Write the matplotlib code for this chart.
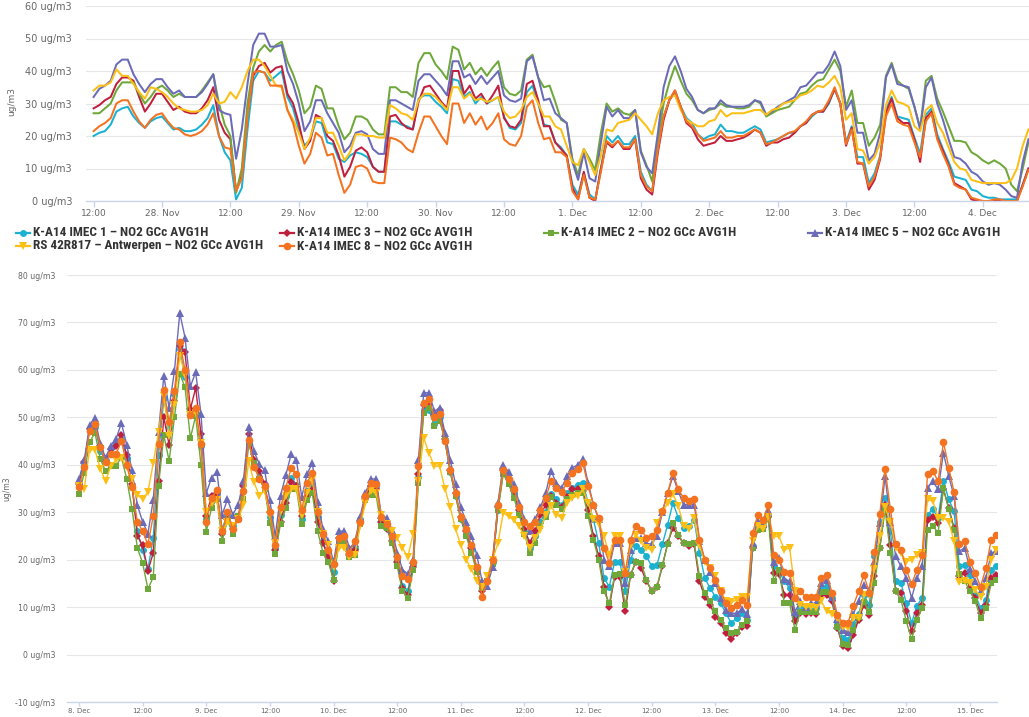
import numpy as np
import pandas as pd
import matplotlib
matplotlib.use("Agg")
import matplotlib.pyplot as plt
import matplotlib.dates as mdates
from matplotlib.lines import Line2D
from matplotlib.ticker import FuncFormatter
from matplotlib import font_manager

# ---------------- data ----------------
series_names = [
    "K-A14 IMEC 1 \u2013 NO2 GCc AVG1H",
    "K-A14 IMEC 3 \u2013 NO2 GCc AVG1H",
    "K-A14 IMEC 2 \u2013 NO2 GCc AVG1H",
    "K-A14 IMEC 5 \u2013 NO2 GCc AVG1H",
    "RS 42R817 \u2013 Antwerpen \u2013 NO2 GCc AVG1H",
    "K-A14 IMEC 8 \u2013 NO2 GCc AVG1H",
]
series_colors = ["#1bb2d2", "#c01f3e", "#6ea83b", "#6b6bb8", "#fbbf16", "#f47321"]
series_markers = ["o", "D", "s", "^", "v", "o"]
marker_sizes = [5.0, 3.8, 4.8, 5.2, 5.2, 5.5]

top_start = "2017-11-27 12:00"   # hourly values
bot_start = "2017-12-08 00:00"   # hourly values

top_imec1 = [20, 21, 21.5, 23.5, 27.5, 28.5, 29, 26, 24, 22.5, 24.5, 25.5, 26, 24, 22, 22.5, 21.5, 21.5, 22, 23.5,
             25.5, 29.5, 20, 15, 12.5, 0.5, 4, 22, 37, 40, 39.5, 37, 38.5, 40, 32, 28.5, 22, 17, 19, 24.5,
             24, 18, 17.5, 13, 12, 14, 15, 14.5, 13.5, 10.5, 9, 9, 24.5, 24.5, 23.5, 23, 22, 31.5, 32.5, 32.5,
             30.5, 29, 27, 37.5, 37, 32, 33.5, 30, 32, 30, 31, 32, 26, 22.5, 22, 24, 33.5, 35.5, 30, 23.5, 23, 18,
             16.5, 14, 5, 2, 8.5, 2, 0.5, 10, 20, 18, 20, 17.5, 17.5, 20, 9, 5, 3, 17, 26, 31,
             33.5, 29, 25.5, 24, 20.5, 19, 20, 20.5, 23.5, 21.5, 21.5, 21, 21, 22, 23, 22, 18, 18.5, 19, 20, 21,
             21, 23, 24, 26, 27.5, 27.5, 30, 34.5, 30, 18, 23, 13.5, 13.5, 5.5, 8.5, 14, 28, 32, 26, 25.5,
             25, 19.5, 14.5, 26.5, 28.5, 20.5, 16, 12, 7.5, 7, 6.5, 3.5, 3, 1.5, 1, 1, 0.5, 0.5, 0.5, 0.5, 5, 10]
top_imec3 = [28.5, 29.5, 31, 32, 36, 38, 38, 37, 32, 27.5, 30, 33, 33, 30.5, 28, 29, 27.5, 27, 27, 28.5,
             31, 35, 25, 21, 19, 3, 8, 27, 38.5, 41.5, 42.5, 39.5, 41, 41.5, 33, 30, 24, 16, 18.5, 26.5,
             25.5, 20, 18.5, 14, 7.5, 10.5, 15.5, 16.5, 15, 10.5, 9, 9, 26, 26.5, 24, 22.5, 22, 30.5, 35, 35.5,
             33, 30.5, 28.5, 40, 40, 33, 35.5, 31.5, 33, 30, 32.5, 35.5, 25.5, 23, 22.5, 25, 36, 37, 31, 23, 23, 18,
             16, 14, 4, 0.5, 9, 1, 0, 10, 18, 16.5, 18.5, 16, 16, 19, 7, 3.5, 2, 15, 25, 31,
             34, 29, 24, 22.5, 19, 17, 17.5, 18, 20, 18.5, 18.5, 19, 19.5, 20.5, 22, 21, 17, 18, 18, 19, 19.5,
             21, 23, 24, 26.5, 27.5, 27.5, 30.5, 34.5, 30, 17, 22.5, 11.5, 11.5, 3.5, 6.5, 13, 27, 31.5, 25.5, 24,
             24, 19, 12, 25.5, 27.5, 19.5, 15.5, 11, 5.5, 4.5, 3.5, 0.5, 0, 0, 0, 0, 0, 0, 0, 0, 5, 10]
top_imec2 = [27, 27, 28.5, 30, 34, 36.5, 36.5, 36.5, 33, 30, 32, 34.5, 35.5, 34, 32, 33, 32, 32, 32, 34,
             36.5, 39, 30, 23.5, 20, 2.5, 10, 30, 41, 46, 48, 46, 48, 49, 43, 39, 34, 27, 29, 35.5,
             34.5, 28.5, 28.5, 23, 19, 21, 26, 26, 25, 22, 20.5, 20.5, 35, 35, 33.5, 33.5, 32, 42.5, 45.5, 45.5,
             42, 40, 37.5, 47.5, 46.5, 40.5, 42.5, 39, 41, 38.5, 41, 43, 35, 33, 32.5, 34, 43.5, 45, 38, 35, 35.5, 30.5,
             25, 24, 13, 8, 16, 13, 9.5, 21, 30, 27.5, 28.5, 27, 26.5, 28, 15.5, 11, 6, 19, 30, 36.5,
             41.5, 37, 33, 31, 28, 27, 28, 28.5, 30, 29, 29, 28.5, 28.5, 29, 31, 30, 26, 27, 28, 28.5, 29,
             31, 33, 33.5, 35.5, 37, 37.5, 40.5, 43.5, 40, 29, 34, 24, 24, 17, 19.5, 23.5, 38.5, 42.5, 37, 35.5,
             34.5, 29, 22.5, 37, 38.5, 31.5, 27.5, 23, 18.5, 18.5, 18, 15, 14, 12.5, 11.5, 12.5, 11.5, 10, 5, 3, 10, 18]
top_imec5 = [32, 34.5, 35.5, 37, 42, 43.5, 43.5, 39, 36, 33.5, 36, 37.5, 37.5, 35, 33, 34, 32, 32, 32, 33.5,
             36, 39, 28, 27, 26.5, 13, 22, 36, 48, 51.5, 51.5, 47.5, 47.5, 48, 40, 36, 30, 21.5, 24.5, 31,
             31, 27, 24, 21, 15, 17, 21, 21.5, 20.5, 16, 14.5, 14.5, 31, 31, 30, 29, 28, 37, 39, 39,
             37, 35, 32.5, 43, 43, 38, 39, 36, 38.5, 36, 38, 40, 32.5, 31, 30.5, 31.5, 43, 44.5, 38, 31, 31.5, 27,
             25.5, 24, 12, 6.5, 15, 7, 6, 18, 29, 26, 28, 25.5, 25.5, 28, 15, 10.5, 8.5, 21, 35, 41.5,
             44.5, 40, 34.5, 32, 28, 27, 28.5, 28.5, 31, 29.5, 29, 29, 29, 29.5, 31, 30.5, 26.5, 27.5, 29, 30, 31,
             32, 35, 35.5, 37.5, 39.5, 39.5, 42, 46, 41.5, 28, 31, 21, 21, 12.5, 14.5, 21, 38, 42, 36, 35.5,
             35, 29, 22, 35, 38, 30, 25, 19, 13.5, 13, 11.5, 9, 8, 6, 5, 5.5, 5, 3.5, 1.5, 1, 12, 19]
top_rs = [34, 35.5, 35.5, 36.5, 40.5, 38.5, 38.5, 36, 33.5, 31.5, 35, 34.5, 33.5, 32, 30, 28.5, 28, 27.5, 27.5, 28,
          29.5, 33, 30, 30.5, 33.5, 31.5, 35, 40, 43.5, 43.5, 41.5, 38.5, 35.5, 35, 28, 25, 21, 16, 19.5, 25.5,
          25.5, 21, 21, 17, 12.5, 15, 20.5, 20.5, 20, 20, 19.5, 19.5, 29.5, 28.5, 27, 26.5, 25, 31, 33, 33,
          32, 30, 28, 35, 35, 31.5, 33, 31, 31.5, 30.5, 31, 32, 27.5, 25.5, 26, 28, 32, 33.5, 30, 26, 26, 23,
          22, 17, 12, 11, 16, 12, 8, 14, 22, 21.5, 24, 24.5, 25, 27, 25, 23, 20.5, 27, 31, 32,
          32.5, 28, 25, 24, 23, 23, 24.5, 25, 28, 26, 27, 27, 27, 27.5, 28, 28, 26.5, 28, 28.5, 30, 30.5,
          31, 32.5, 33, 34, 35.5, 35, 36.5, 38.5, 35, 25, 27, 16, 15.5, 11.5, 13.5, 18, 29.5, 34, 30.5, 30,
          29, 23, 21.5, 28, 29.5, 24, 21, 16.5, 12, 10, 9.5, 6.5, 6, 5.5, 5.5, 5.5, 5.5, 5.5, 6.5, 10, 17, 22]
top_imec8 = [21.5, 23, 24, 25.5, 30, 31, 31, 27.5, 24.5, 22.5, 25, 26.5, 27, 24.5, 22.5, 22, 20.5, 20, 20.5, 21.5,
             23.5, 27, 20, 16.5, 16, 3, 7, 26, 39.5, 40, 39.5, 35.5, 35.5, 35.5, 28, 24, 17, 11.5, 14.5, 21,
             19.5, 14, 14.5, 8, 2.5, 5, 10.5, 11, 10, 6, 5.5, 5.5, 19.5, 19, 18, 16, 15, 21, 26, 26,
             23, 20, 17.5, 30, 30, 24, 27, 23.5, 26, 22, 24, 27, 19, 17.5, 17, 20, 29, 31, 24, 19, 19.5, 15,
             15, 13.5, 3, 0.5, 8, 1, 0.5, 9, 18.5, 17, 18.5, 16.5, 16.5, 19, 8, 4.5, 3, 16, 26, 31,
             34, 29, 24.5, 23, 20.5, 18.5, 19, 19.5, 21.5, 19.5, 19.5, 20, 20, 21, 22, 21, 17.5, 18, 19, 20, 21,
             21.5, 23, 24.5, 26.5, 27.5, 28, 31, 35, 30, 17.5, 22, 12, 11.5, 4.5, 7.5, 13.5, 26, 30, 24.5, 23.5,
             23, 18, 13.5, 24.5, 27, 19, 14.5, 10.5, 5, 4, 3.5, 1, 0.5, 0, 0, 0.5, 0.5, 0, 0, 0, 4.5, 9.5]

bot_imec1 = [36, 40, 47.8, 48, 43, 41, 43.5, 44.5, 45.5, 41.5, 35.5, 26, 22, 18, 24.5, 42, 54, 48, 55, 64.5,
             58.5, 50.5, 51, 44, 28.5, 33.5, 34, 26.5, 29.5, 27, 28.5, 34.5, 45, 40, 37.5, 35.5, 29, 22.5, 29.5, 33.5,
             37.2, 35.8, 28.5, 34.5, 36, 29, 24, 20.5, 17.5,
             24.5, 25, 21, 22.5, 28.5, 33, 35.5, 35.5, 28.5, 27, 24.5, 20, 14.5, 13.5, 19, 37.5, 51.5, 51.5, 48.5, 50, 45,
             38.5, 33.5, 28.5, 25.5, 22, 18, 14, 15.5, 19.5, 30.5, 38.5, 36.5, 34, 30, 26, 22.5, 25, 28, 30,
             33.9, 32.7, 31.5, 34, 35.1, 35.8, 36.2,
             32, 28.5, 23.5, 16.1, 14.3, 19.6, 19.6, 13.3, 20, 22.8, 22.1, 20.7, 18.6, 18.9, 23.2, 27.4, 32, 28.8, 26.7, 27,
             28.4, 21.4, 16.1, 14, 12.2, 10.8, 8.7, 6.6, 7.7, 8.7, 7.3, 22.8, 27, 27, 29.5, 18.6, 17.5, 15.5,
             14, 8, 10, 9.5, 9.8, 9.8, 14, 14.5, 12, 6.8, 3.5, 3, 6.5, 8.5, 12.5, 10.5, 20.7, 28, 33, 26,
             15.5, 15, 10.8, 6.6, 10.3, 11.9, 29.5, 30.6, 28.8, 36.6, 32.7, 30.2, 18.6, 18.9, 16.8, 12.6, 9.8, 11.5, 17.9, 18.6]
bot_imec3 = [36, 40.5, 47.5, 48.3, 44, 40.5, 43.3, 44, 46.3, 42, 36, 25, 23, 17.7, 21.4, 36.6, 50, 44.2, 53.5, 65,
             63.7, 51.7, 56.2, 46.5, 29.2, 33.5, 34, 25.5, 28.5, 26.5, 28.7, 35.5, 46.5, 41, 38.7, 36, 30, 22, 28, 32,
             36.3, 35.5, 29.2, 33.3, 34.7, 28, 23.5, 20.5, 15.5,
             24.5, 24.5, 21, 22, 28, 33, 35.5, 35, 28, 26.5, 24, 19.5, 14, 12.5, 18.5, 38, 52.5, 52.5, 50.5, 51.5, 45.5,
             39, 34, 29, 26, 22.5, 18, 13.5, 15.5, 20, 31, 39, 37, 34.5, 30.5, 26.5, 23.5, 26, 29.5, 31.5,
             33.5, 32, 31, 33.2, 34.8, 34.8, 34.4,
             30.5, 25, 20.7, 14.3, 10.1, 16.4, 16.4, 9.1, 16.8, 19.5, 18.2, 15.4, 13.5, 14.3, 18.6, 23.5, 26.7, 24.9, 23.5, 22.8,
             23.2, 15.4, 12.2, 10.5, 8, 6.6, 4.5, 3.2, 4.5, 5.9, 6, 22.5, 26.5, 27, 29, 17.2, 17, 12.6,
             12.6, 7, 8.7, 8.6, 8.7, 8.5, 12.6, 12.6, 11.2, 5.5, 1.9, 1.3, 4.1, 7.3, 10.5, 8.4, 16.5, 22.5, 31.5, 23,
             13.5, 12.9, 9.1, 4.9, 8.7, 10.5, 28.4, 29, 27.8, 34.8, 30.9, 26.7, 16.5, 17.2, 14, 11.9, 8.7, 10.5, 16.1, 16.8]
bot_imec2 = [33.8, 38.3, 44.7, 46.8, 41.3, 38.7, 39.8, 39.8, 41.6, 37, 30.7, 22.5, 19.3, 13.8, 16.3, 35.6, 46.2, 40.8, 50, 59.2,
             56.3, 45.6, 50.3, 40, 25.9, 30.9, 32.8, 23.9, 28.4, 25.4, 29.2, 32.8, 44.5, 40.4, 37, 35, 27.8, 21.2, 27.6, 30.9,
             35, 35, 27.6, 32.5, 34, 26, 21.5, 19.5, 15.8,
             23.5, 24, 20.5, 21, 27.5, 32.5, 33.7, 33.7, 27, 26.7, 23.5, 18.6, 13.3, 12, 17.9, 36.2, 51, 52, 48.2, 49.2, 45.4,
             38.5, 33.5, 28.5, 25, 21.5, 17.5, 14, 15.5, 19, 30.5, 38, 36, 33, 29.5, 25.5, 21.5, 23.5, 27, 29,
             33.2, 31.6, 30.6, 32.7, 33.7, 34.1, 34.1,
             29.1, 24.2, 20, 13.3, 10.8, 16.8, 17, 10.5, 16.8, 19.6, 19.3, 15.8, 13.3, 14.3, 18.9, 23.2, 27.7, 25.3, 23.5, 23.2,
             23.5, 16.5, 12.9, 11.2, 9.1, 7.3, 5.6, 4.5, 4.8, 6.3, 7, 22.5, 26.3, 26.5, 28.5, 15.4, 17.9, 10.8,
             10.8, 5.2, 8.9, 9, 9, 8.9, 13.1, 13.2, 11.9, 5.9, 2.2, 2, 5.2, 8, 11, 9, 15, 22.5, 30.6, 21.4,
             13.3, 11.5, 7, 3.2, 7.3, 9.8, 26.3, 27.2, 25.6, 35.1, 30.6, 26.3, 17, 15.5, 13.3, 11.2, 7.7, 9.8, 15, 15.8]
bot_imec5 = [37, 41, 48.3, 49.8, 44.5, 41.5, 44, 45.5, 48.8, 44.2, 38.8, 31.5, 28, 25.5, 32.6, 47, 58.7, 52, 59.8, 72,
             66.8, 56.5, 59.5, 50.8, 34, 37.3, 38.5, 29.5, 32.7, 29.5, 31.5, 36.5, 48, 42.8, 40.2, 38.8, 32.5, 25, 33.5, 37.8,
             42.2, 41, 33.2, 38, 40.4, 32.2, 26.5, 24, 19.5,
             26, 26, 22.5, 23.5, 29, 34, 37, 37, 29.5, 28.8, 26.3, 21.5, 17.9, 17, 20, 41, 55.2, 55.2, 51.3, 52, 46.8,
             41, 36, 31, 28, 25, 21, 15.5, 14.5, 18.5, 32, 40, 38.5, 36, 32, 28.5, 26, 28.5, 31, 34,
             38.7, 36.2, 35.1, 37.6, 39.4, 39.9, 41.3,
             36.2, 31.6, 28.5, 20, 18.6, 23.5, 23.5, 15, 22, 24.5, 24.5, 23.5, 23.2, 25, 30, 34, 37.6, 34.4, 31.6, 31.6,
             31.6, 24, 20, 17.5, 15.1, 11.9, 9.4, 8.7, 8.7, 9.5, 8.5, 23.5, 28.1, 27.5, 30.5, 19.6, 20.3, 16,
             15.4, 9, 11.2, 10.1, 10.8, 10.8, 15, 15.8, 12.2, 7.5, 5.2, 4.8, 8.5, 11.2, 14.7, 13.6, 19.6, 27.7, 37.6, 28,
             20.7, 18.6, 16.1, 11.9, 16.1, 18.6, 35.1, 36.5, 34.8, 42.5, 37.6, 33.4, 21.8, 22.5, 18, 15.4, 13.3, 16.1, 21.4, 21.8]
bot_rs = [35.5, 35, 43.2, 43.2, 39.2, 36.5, 39.8, 41, 41.5, 39.5, 37, 33.7, 32.7, 34.3, 40.3, 47, 54.5, 46, 52.5, 63,
          59, 50.5, 51, 44.5, 30, 32, 32.5, 26, 28, 27, 28.5, 31.5, 40.8, 36.3, 33.5, 34.5, 29.5, 23.5, 30.3, 33.5,
          34.8, 35, 29.5, 34, 36.7, 30, 25.5, 23, 18.5,
          22.5, 22.5, 20.5, 21, 27, 32, 34.5, 34, 29.5, 27.5, 26, 24.5, 22.5, 20.5, 25.5, 36.6, 45.7, 42.4, 39.7, 39.7, 35,
          31, 26.5, 23, 20, 18, 15.5, 14.3, 16.5, 20, 23.5, 29.9, 29.1, 28.4, 27, 25, 22.5, 24.5, 26.3, 29.5,
          31.3, 29.5, 28.8, 32, 33, 33.4, 34.8,
          32, 28.5, 27.5, 25, 21, 24.9, 24.9, 17.5, 23, 25.3, 24, 22.5, 22, 27.7, 29.8, 32, 33.8, 31.4, 27, 26.5,
          28.7, 23, 19.5, 18.2, 16.5, 13.3, 11.2, 11, 11.5, 12.2, 12.2, 24, 27, 26.5, 29, 24.9, 24.9, 22.1,
          22.5, 13.5, 10.5, 10, 10.1, 9.8, 11.2, 9.1, 8.5, 7.7, 5.9, 5.5, 7.7, 7.7, 12.5, 12.5, 18, 25, 31, 28,
          22.5, 21.5, 19.6, 20, 21, 21.5, 32.7, 32.3, 28.8, 28.8, 28, 23.9, 15.2, 15.4, 15, 13.6, 12.2, 14.3, 20, 22.1]
bot_imec8 = [35.3, 39.5, 47.2, 48.5, 43.8, 40.5, 42.3, 42.3, 45, 40, 35.3, 28, 26, 23.2, 29.2, 44.3, 55.8, 49, 55.5, 65.8,
             60, 50.5, 52, 44.3, 28, 33, 34.6, 26, 30, 26.5, 28.5, 34.5, 45.3, 39.6, 37, 35.5, 30, 23, 31, 35.2,
             39.3, 38, 30.5, 36.2, 38.3, 30, 25.5, 22, 19,
             24.5, 25, 21.5, 24, 28, 33.5, 36.2, 36, 29, 27.5, 25, 20.5, 16.5, 16, 19.5, 39.7, 53.1, 53.8, 50, 50.6, 45,
             39, 34, 29, 26.5, 23, 18.5, 12.2, 15.5, 20, 31.5, 39, 37, 35, 31, 28, 27, 28, 30.5, 33,
             36.6, 35.1, 34.2, 36.2, 38.3, 39.2, 40.4,
             35.5, 31.6, 28.8, 22.5, 19.3, 24.2, 24.2, 17.2, 24.2, 27.2, 26.3, 24.6, 24.9, 26.3, 30.3, 34.1, 38.3, 34.8, 33, 32.3,
             32.7, 24.2, 20, 18.2, 15.8, 13.3, 10.8, 9.8, 10.5, 11.5, 10.5, 25.6, 29.5, 28.4, 31.6, 21, 20, 17.5,
             17.2, 12, 13.3, 12.2, 12.2, 12.2, 16.2, 16.8, 13, 8.4, 6.7, 6.6, 10.3, 13.3, 16.8, 13, 21.7, 29.7, 39.2, 30.6,
             23.2, 22.1, 17.9, 14.8, 17.9, 21, 38, 38.7, 36.5, 44.8, 39.4, 34.2, 23.2, 23.9, 19.6, 17.2, 14.3, 18.2, 24.2, 25.3]

top_yticks = [0, 10, 20, 30, 40, 50, 60]
bot_yticks = [-10, 0, 10, 20, 30, 40, 50, 60, 70, 80]

# ---------------- figure ----------------
W, H = 1029, 717
fig = plt.figure(figsize=(W / 100, H / 100), dpi=100)
fig.patch.set_facecolor("white")


def fx(p):
    return p / W


def fy(p):
    return 1 - p / H


ax_top = fig.add_axes([fx(86), fy(201), fx(1029) - fx(86), fy(6) - fy(201)])
ax_bot = fig.add_axes([fx(67), fy(702), fx(997) - fx(67), fy(275) - fy(702)])

HOUR = 1.0 / 24.0


def hourly(start, n):
    return mdates.date2num(pd.date_range(start, periods=n, freq="h").to_pydatetime())


top_data = [top_imec1, top_imec3, top_imec2, top_imec5, top_rs, top_imec8]
bot_data = [bot_imec1, bot_imec3, bot_imec2, bot_imec5, bot_rs, bot_imec8]

for vals, col in zip(top_data, series_colors):
    ax_top.plot(hourly(top_start, len(vals)), vals, color=col, lw=1.45,
                solid_joinstyle="round", zorder=3)

for vals, col, mk, ms in zip(bot_data, series_colors, series_markers, marker_sizes):
    ax_bot.plot(hourly(bot_start, len(vals)), vals, color=col, lw=1.0, marker=mk,
                ms=ms, mew=0, zorder=3)

t0 = mdates.date2num(pd.Timestamp(top_start).to_pydatetime())
b0 = mdates.date2num(pd.Timestamp(bot_start).to_pydatetime())
ax_top.set_xlim(t0 - 1.33 * HOUR, t0 + 164.1 * HOUR)
ax_bot.set_xlim(b0 - 2.26 * HOUR, b0 + 173.1 * HOUR)
ax_top.set_ylim(0, 60)
ax_bot.set_ylim(-10, 80)


def date_fmt(v, pos):
    d = pd.Timestamp(mdates.num2date(v).replace(tzinfo=None)).round("min")
    if d.hour == 0:
        return f"{d.day}. {d.strftime('%b')}"
    return d.strftime("%H:%M")


def style(ax, yticks, ylab_size, xlab_size, ypad, tlen, xpad):
    ax.set_facecolor("white")
    for s in ["top", "right", "left"]:
        ax.spines[s].set_visible(False)
    ax.spines["bottom"].set_color("#ccd6eb")
    ax.spines["bottom"].set_linewidth(1.0)
    ax.spines["bottom"].set_zorder(4)
    ax.set_yticks(yticks)
    ax.set_yticklabels([f"{v} ug/m3" for v in yticks])
    ax.tick_params(axis="y", length=0, pad=ypad, labelsize=ylab_size, labelcolor="#666666")
    ax.xaxis.set_major_locator(mdates.HourLocator(byhour=[0, 12]))
    ax.xaxis.set_major_formatter(FuncFormatter(date_fmt))
    ax.tick_params(axis="x", length=tlen, width=1.0, color="#ccd6eb", pad=xpad,
                   labelsize=xlab_size, labelcolor="#666666")
    ax.yaxis.grid(True, color="#e6e6e6", linewidth=0.8)
    ax.xaxis.grid(False)
    ax.set_axisbelow(True)


style(ax_top, top_yticks, 7, 6.5, 10, 4, 1.5)
style(ax_bot, bot_yticks, 5.6, 5.0, 8.5, 3, 1.5)

fig.text(fx(12), fy(101), "ug/m3", rotation=90, ha="center", va="center",
         fontsize=6.5, color="#666666")
fig.text(fx(7), fy(489), "ug/m3", rotation=90, ha="center", va="center",
         fontsize=5.5, color="#666666")

# ---------------- legend (drawn item by item) ----------------
avail = {f.name for f in font_manager.fontManager.ttflist}
leg_family = "DejaVu Sans"
for cand in ["Liberation Sans Narrow", "Roboto Condensed", "Arial Narrow", "Open Sans"]:
    if cand in avail:
        leg_family = cand
        break
probe = fig.text(0, 0, series_names[1], fontsize=10, fontweight="bold", family=leg_family)
rend = fig.canvas.get_renderer()
wpx = probe.get_window_extent(renderer=rend).width
probe.remove()
leg_size = 10 * 175.0 / max(wpx, 1)

leg_pos = [(23, 233), (287, 233), (551, 233), (815, 233), (23, 246), (287, 246)]
for i, (px, py) in enumerate(leg_pos):
    fig.add_artist(Line2D([fx(px - 7), fx(px + 7)], [fy(py), fy(py)], transform=fig.transFigure,
                          color=series_colors[i], lw=1.6))
    fig.add_artist(Line2D([fx(px)], [fy(py)], transform=fig.transFigure, linestyle="none",
                          marker=series_markers[i], ms=marker_sizes[i], mew=0,
                          color=series_colors[i]))
    fig.text(fx(px + 10), fy(py), series_names[i], ha="left", va="center",
             fontsize=leg_size, fontweight="bold", family=leg_family, color="#333333")

fig.savefig("out.png", dpi=100, facecolor="white")
